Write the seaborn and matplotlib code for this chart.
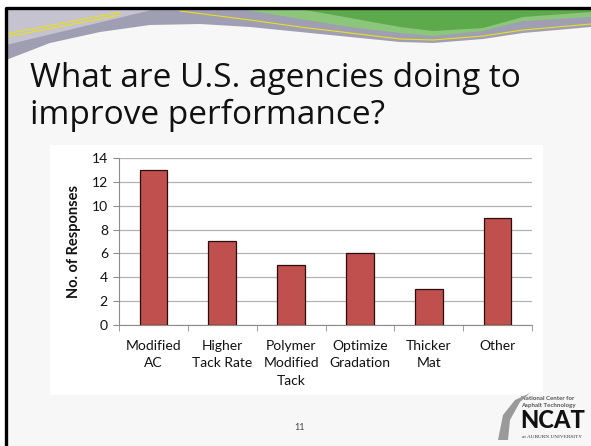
import numpy as np
import pandas as pd
import matplotlib
matplotlib.use("Agg")
import matplotlib.pyplot as plt
import seaborn as sns
from matplotlib.patches import Rectangle, Polygon

categories = ["Modified\nAC", "Higher\nTack Rate", "Polymer\nModified\nTack",
              "Optimize\nGradation", "Thicker\nMat", "Other"]
responses = [13, 7, 5, 6, 3, 9]
y_ticks = [0, 2, 4, 6, 8, 10, 12, 14]

df = pd.DataFrame({"Measure": categories, "Responses": responses})

sns.set_style("white")
plt.rcParams["font.family"] = ["Lato", "DejaVu Sans"]

W, H = 591, 446
fig = plt.figure(figsize=(W / 100, H / 100), dpi=100)
fig.patch.set_facecolor("white")


def px(x, y):
    return (x / W, 1 - y / H)


def poly(points, **kw):
    fig.patches.append(Polygon([px(x, y) for x, y in points], closed=True,
                               transform=fig.transFigure, **kw))


# slide background
fig.patches.append(Rectangle(px(6, 446), (W - 6) / W, 438 / H,
                             transform=fig.transFigure, facecolor="#f7f7f7",
                             edgecolor="none", zorder=0))

# top decoration: gray wave, green wave, yellow stripes
gray_bottom = [(6, 60), (50, 43), (100, 32), (150, 25), (200, 24), (250, 27),
               (300, 32), (350, 37), (400, 42), (433, 43), (483, 39),
               (523, 33), (591, 27)]
poly([(6, 8), (591, 8)] + gray_bottom[::-1], facecolor="#a09eb2",
     edgecolor="none", zorder=1)
poly([(6, 8), (160, 8), (110, 20), (6, 45)], facecolor="#c4c3cf",
     edgecolor="none", zorder=1)
green_bottom = [(240, 9), (300, 19), (350, 27), (400, 33), (433, 36),
                (483, 31), (523, 21), (591, 17)]
poly([(240, 8), (591, 8)] + green_bottom[::-1], facecolor="#8cc67a",
     edgecolor="none", zorder=2)
green_dark = [(300, 9), (350, 18), (400, 27), (433, 31), (483, 28),
              (523, 17), (591, 12)]
poly([(300, 8), (591, 8)] + green_dark[::-1], facecolor="#5daa4c",
     edgecolor="none", zorder=2)
yx = [180, 250, 300, 350, 400, 433, 483, 523, 591]
yy = [11, 20, 27, 33, 39, 40, 36, 30, 24]
fig.lines.append(plt.Line2D([x / W for x in yx], [1 - y / H for y in yy],
                            transform=fig.transFigure, color="#e8e020",
                            lw=0.8, zorder=3))
for off in (0, 3):
    fig.lines.append(plt.Line2D([6 / W, 120 / W],
                                [1 - (34 + off) / H, 1 - (12 + off) / H],
                                transform=fig.transFigure, color="#e8e020",
                                lw=0.8, zorder=3))

# slide border
fig.lines.append(plt.Line2D([6 / W, 6 / W, 1], [0, 1 - 8 / H, 1 - 8 / H],
                            transform=fig.transFigure, color="black",
                            lw=2.4, zorder=5))

# chart area
fig.patches.append(Rectangle(px(50, 395), (543 - 50) / W, (395 - 145) / H,
                             transform=fig.transFigure, facecolor="white",
                             edgecolor="none", zorder=1))

# title
title_font = dict(fontsize=24, color="#111111", ha="left", va="baseline",
                  family=["Open Sans", "DejaVu Sans"])
fig.text(30 / W, 1 - 87 / H, "What are U.S. agencies doing to", **title_font)
fig.text(30 / W, 1 - 124 / H, "improve performance?", **title_font)

ax = fig.add_axes([119 / W, (H - 325) / H, (532 - 119) / W, (325 - 158) / H])
ax.set_zorder(4)
ax.patch.set_alpha(0)
sns.barplot(data=df, x="Measure", y="Responses", color="#c0504d",
            edgecolor="#2a0e0e", linewidth=0.9, width=0.4, saturation=1,
            ax=ax, zorder=3)

ax.set_xlim(-0.5, len(categories) - 0.5)
ax.set_ylim(0, 14)
ax.set_yticks(y_ticks)
ax.yaxis.grid(True, color="#b3b3b3", lw=0.9, zorder=0)
ax.set_axisbelow(True)
for s in ("top", "right"):
    ax.spines[s].set_visible(False)
ax.spines["left"].set_color("#8c8c8c")
ax.spines["bottom"].set_color("#8c8c8c")
ax.tick_params(axis="y", left=True, length=4, color="#8c8c8c",
               labelsize=10, labelcolor="#111111", pad=4)
ax.tick_params(axis="x", bottom=False, labelsize=10, labelcolor="#111111",
               pad=7)
ax.set_xticks(np.arange(-0.5, len(categories)), minor=True)
ax.tick_params(axis="x", which="minor", bottom=True, length=4,
               color="#8c8c8c")
for lab in ax.get_xticklabels():
    lab.set_linespacing(1.55)
ax.set_xlabel("")
ax.set_ylabel("No. of Responses", fontsize=10.5, fontweight="bold",
              color="#111111", labelpad=8)

# page number
fig.text(300 / W, 1 - 428 / H, "11", fontsize=6.5, color="#444444",
         ha="center", va="center")

# NCAT logo (text approximation)
poly([(498, 440), (503, 415), (515, 400), (530, 393), (520, 402), (510, 420),
      (508, 440)], facecolor="#9a9a9a", edgecolor="none", zorder=5)
fig.text(548 / W, 1 - 398 / H, "National Center for", fontsize=4.4,
         fontweight="bold", color="#555555", ha="center", va="center")
fig.text(548 / W, 1 - 405 / H, "Asphalt Technology", fontsize=4.4,
         fontweight="bold", color="#555555", ha="center", va="center")
fig.text(553 / W, 1 - 420 / H, "NCAT", fontsize=17, fontweight="black",
         color="#111111", ha="center", va="center")
fig.text(552 / W, 1 - 437 / H, "at AUBURN UNIVERSITY", fontsize=3.8,
         family="Liberation Serif", color="#333333", ha="center",
         va="center")

fig.savefig("out.png", dpi=100, facecolor=fig.get_facecolor())
